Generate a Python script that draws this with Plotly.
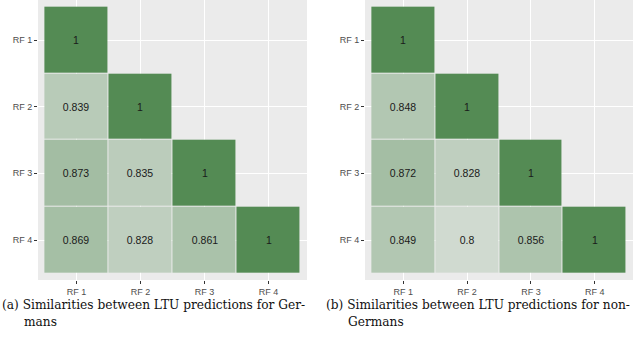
import plotly.graph_objects as go

categories = ["RF 1", "RF 2", "RF 3", "RF 4"]

germans = [
    [1, None, None, None],
    [0.839, 1, None, None],
    [0.873, 0.835, 1, None],
    [0.869, 0.828, 0.861, 1],
]

non_germans = [
    [1, None, None, None],
    [0.848, 1, None, None],
    [0.872, 0.828, 1, None],
    [0.849, 0.8, 0.856, 1],
]

caption_a = ["(a) Similarities between LTU predictions for Ger-", "mans"]
caption_b = ["(b) Similarities between LTU predictions for non-", "Germans"]

W, H = 640, 343
BG = "#EBEBEB"
GREEN = "#548B54"
colorscale = [[0, BG], [1, GREEN]]


def fmt(v):
    return "" if v is None else f"{v:g}"


fig = go.Figure()

panels = [
    (germans, "x", "y", (38, 307)),
    (non_germans, "x2", "y2", (365, 633)),
]

for data, xa, ya, _ in panels:
    fig.add_trace(go.Heatmap(
        z=data,
        x=categories,
        y=categories,
        text=[[fmt(v) for v in row] for row in data],
        texttemplate="%{text}",
        textfont=dict(family="Liberation Sans, Arial, sans-serif", size=10.5, color="#1a1a1a"),
        colorscale=colorscale,
        zmin=0.757, zmax=1,
        showscale=False,
        xgap=1, ygap=1,
        hoverongaps=False,
        xaxis=xa, yaxis=ya,
    ))

panel_top = 0
panel_bottom = 280
ydom = [1 - panel_bottom / H, 1 - panel_top / H]

axis_common = dict(
    showgrid=True, gridcolor="white", gridwidth=1,
    zeroline=False, showline=False,
    ticks="outside", ticklen=3, tickcolor="#333333", tickwidth=1,
    tickfont=dict(family="Liberation Sans, Arial, sans-serif", size=9, color="#4D4D4D"),
    type="category", fixedrange=True, automargin=False,
)

layout_axes = {}
for i, (data, xa, ya, (x0, x1)) in enumerate(panels):
    xname = "xaxis" if i == 0 else "xaxis2"
    yname = "yaxis" if i == 0 else "yaxis2"
    layout_axes[xname] = dict(axis_common, domain=[x0 / W, x1 / W], range=[-0.6, 3.6],
                              anchor=ya)
    layout_axes[yname] = dict(axis_common, domain=ydom, range=[3.6, -0.6],
                              anchor=xa)

fig.update_layout(
    width=W, height=H,
    margin=dict(l=0, r=0, t=0, b=0, autoexpand=False),
    paper_bgcolor="white",
    plot_bgcolor=BG,
    showlegend=False,
    **layout_axes,
)

cap_font = dict(family="DejaVu Serif, serif", size=12.2, color="#111111")
for lines, x0 in [(caption_a, 0), (caption_b, 324)]:
    fig.add_annotation(text=lines[0], xref="paper", yref="paper",
                       x=x0 / W, y=1 - 305 / H, xanchor="left", yanchor="middle",
                       showarrow=False, font=cap_font)
    fig.add_annotation(text=lines[1], xref="paper", yref="paper",
                       x=(x0 + 22) / W, y=1 - 322 / H, xanchor="left", yanchor="middle",
                       showarrow=False, font=cap_font)

fig.write_html(
    "out.html",
    config={"displayModeBar": False},
    post_script="document.body.style.margin='0';document.body.style.overflow='hidden';",
)
